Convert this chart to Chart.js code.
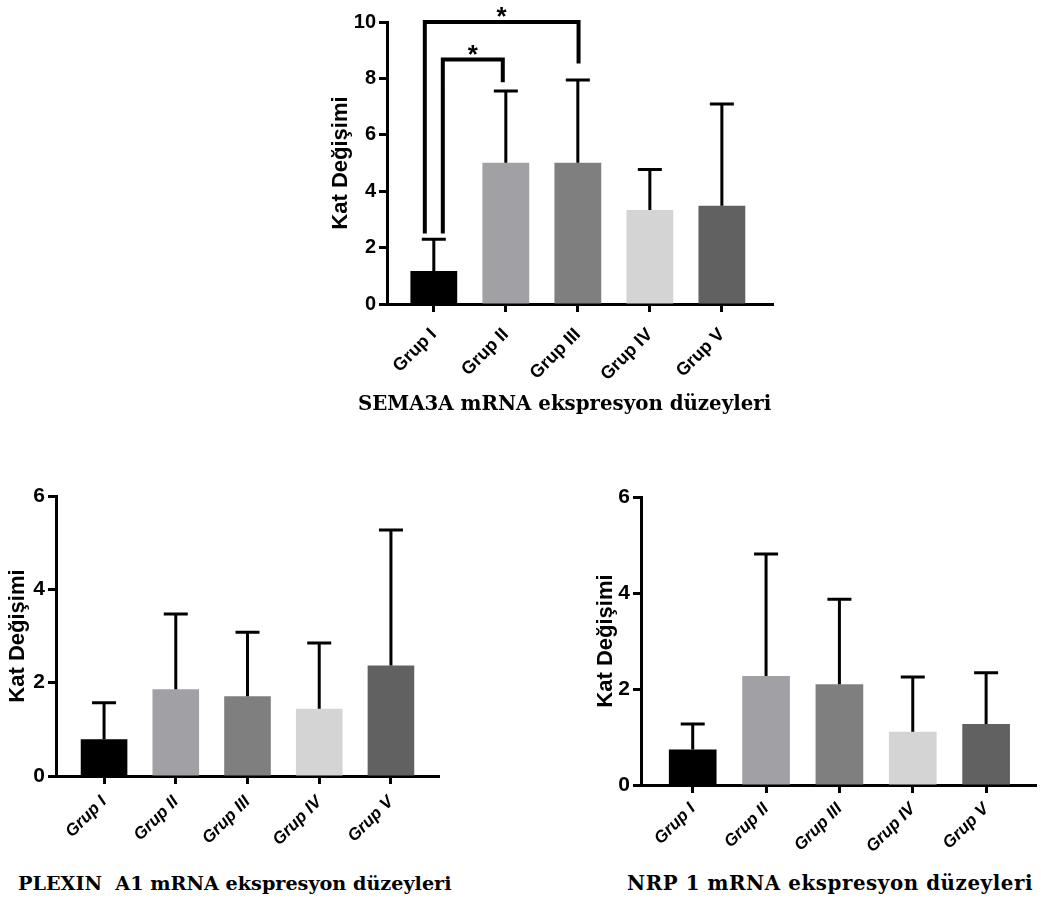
<!DOCTYPE html>
<html>
<head>
<meta charset="utf-8">
<script src="https://cdn.jsdelivr.net/npm/chart.js@4/dist/chart.umd.min.js"></script>
<style>
  body { margin: 0; background: #fff; width: 1041px; height: 901px; position: relative; overflow: hidden; }
  canvas { position: absolute; }
  .cap { position: absolute; font-family: "DejaVu Serif"; font-weight: bold; white-space: pre; color: #000; line-height: 1; font-size: 19.8px; }
</style>
</head>
<body>
<canvas id="sema" width="460" height="392" style="left:320px;top:0px"></canvas>
<canvas id="plexin" width="450" height="390" style="left:0px;top:480px"></canvas>
<canvas id="nrp" width="461" height="390" style="left:580px;top:480px"></canvas>

<div class="cap" style="left:358px;top:394px">SEMA3A mRNA ekspresyon düzeyleri</div>
<div class="cap" style="left:18px;top:874px;font-size:19.2px">PLEXIN  A1 mRNA ekspresyon düzeyleri</div>
<div class="cap" style="left:627px;top:874px;letter-spacing:0.6px">NRP 1 mRNA ekspresyon düzeyleri</div>

<script>
const categories = ["Grup I", "Grup II", "Grup III", "Grup IV", "Grup V"];
const barColors = ["#000000", "#a1a0a5", "#7f7f7f", "#d4d4d4", "#616161"];

// mean and SD (upper error bar only)
const semaMean = [1.17, 5.01, 5.01, 3.33, 3.48];
const semaSD = [1.13, 2.54, 2.93, 1.44, 3.61];
const plexinMean = [0.79, 1.86, 1.71, 1.44, 2.37];
const plexinSD = [0.78, 1.61, 1.37, 1.41, 2.90];
const nrpMean = [0.74, 2.27, 2.10, 1.11, 1.27];
const nrpSD = [0.53, 2.54, 1.77, 1.14, 1.07];

const semaTicks = [0, 2, 4, 6, 8, 10];
const sixTicks = [0, 2, 4, 6];

// significance brackets on SEMA3A (x in category units, y in data units)
const semaSig = [
  { from: -0.125, to: 2.01, y: 10, leftEnd: 2.5, rightEnd: 8.53, label: "*" },
  { from: 0.125, to: 0.958, y: 8.67, leftEnd: 2.5, rightEnd: 7.86, label: "*" }
];

Chart.defaults.font.family = '"Liberation Sans", Arial, sans-serif';
Chart.defaults.color = '#000';

function errorBars(sd) {
  return {
    id: 'errorBars',
    afterDatasetsDraw(chart) {
      const ctx = chart.ctx, y = chart.scales.y;
      const data = chart.data.datasets[0].data;
      ctx.save();
      ctx.strokeStyle = '#000';
      ctx.lineWidth = 3;
      chart.getDatasetMeta(0).data.forEach((bar, i) => {
        const top = y.getPixelForValue(data[i].y + sd[i]);
        ctx.beginPath();
        ctx.moveTo(bar.x, bar.y);
        ctx.lineTo(bar.x, top);
        ctx.moveTo(bar.x - 12, top);
        ctx.lineTo(bar.x + 12, top);
        ctx.stroke();
      });
      ctx.restore();
    }
  };
}

function sigBrackets(list) {
  return {
    id: 'sigBrackets',
    afterDraw(chart) {
      const ctx = chart.ctx, x = chart.scales.x, y = chart.scales.y;
      ctx.save();
      ctx.strokeStyle = '#000';
      ctx.fillStyle = '#000';
      ctx.lineWidth = 4;
      ctx.lineJoin = 'miter';
      ctx.font = 'bold 26px "Liberation Sans"';
      ctx.textAlign = 'center';
      ctx.textBaseline = 'alphabetic';
      list.forEach(b => {
        const x1 = x.getPixelForValue(b.from), x2 = x.getPixelForValue(b.to);
        const yt = y.getPixelForValue(b.y);
        ctx.beginPath();
        ctx.moveTo(x1, y.getPixelForValue(b.leftEnd));
        ctx.lineTo(x1, yt);
        ctx.lineTo(x2, yt);
        ctx.lineTo(x2, y.getPixelForValue(b.rightEnd));
        ctx.stroke();
        ctx.fillText(b.label, (x1 + x2) / 2, yt + 3);
      });
      ctx.restore();
    }
  };
}

function makeChart(id, mean, sd, yTicks, o, extra) {
  return new Chart(document.getElementById(id), {
    type: 'bar',
    data: {
      datasets: [{
        data: mean.map((v, i) => ({ x: i, y: v })),
        backgroundColor: barColors,
        borderWidth: 0,
        categoryPercentage: 1,
        barPercentage: 0.65
      }]
    },
    options: {
      responsive: false,
      animation: false,
      devicePixelRatio: 1,
      layout: { padding: o.padding },
      plugins: { legend: { display: false }, tooltip: { enabled: false } },
      scales: {
        x: {
          type: 'linear',
          min: o.xMin, max: o.xMax,
          offset: false,
          afterBuildTicks: s => { s.ticks = categories.map((c, i) => ({ value: i })); },
          afterFit: s => { s.height = o.xHeight; },
          grid: { display: true, offset: false, drawOnChartArea: false, drawTicks: true, tickLength: 8, tickWidth: 3, tickColor: '#000' },
          border: { display: true, color: '#000', width: 3 },
          ticks: {
            minRotation: 45, maxRotation: 45, autoSkip: false, padding: o.xPad,
            font: { size: o.xSize, weight: 'bold', style: o.xStyle },
            callback: v => categories[v]
          }
        },
        y: {
          min: 0, max: yTicks[yTicks.length - 1],
          afterBuildTicks: s => { s.ticks = yTicks.map(v => ({ value: v })); },
          afterFit: s => { s.width = o.yWidth; },
          grid: { display: true, drawOnChartArea: false, drawTicks: true, tickLength: 8, tickWidth: 3, tickColor: '#000' },
          border: { display: true, color: '#000', width: 3 },
          ticks: { padding: 3, font: { size: o.yTickSize, weight: 'bold' } },
          title: {
            display: true, text: 'Kat Değişimi',
            font: { size: 22, weight: 'bold' },
            padding: { top: o.titlePad, bottom: 0 }
          }
        }
      }
    },
    plugins: [errorBars(sd)].concat(extra || [])
  });
}

makeChart('sema', semaMean, semaSD, semaTicks, {
  padding: { left: 0, right: 7, top: 22, bottom: 0 },
  xHeight: 88, yWidth: 67, xMin: -0.65, xMax: 4.71,
  xStyle: 'normal', xSize: 18, xPad: 12, yTickSize: 20, titlePad: 8
}, [sigBrackets(semaSig)]);

makeChart('plexin', plexinMean, plexinSD, sixTicks, {
  padding: { left: 0, right: 11, top: 16, bottom: 0 },
  xHeight: 94, yWidth: 56, xMin: -0.67, xMax: 4.67,
  xStyle: 'italic', xSize: 17, xPad: 8, yTickSize: 21, titlePad: 5
});

makeChart('nrp', nrpMean, nrpSD, sixTicks, {
  padding: { left: 0, right: 5, top: 17, bottom: 0 },
  xHeight: 85, yWidth: 61, xMin: -0.705, xMax: 4.68,
  xStyle: 'italic', xSize: 17, xPad: 6, yTickSize: 21, titlePad: 13
});
</script>
</body>
</html>
